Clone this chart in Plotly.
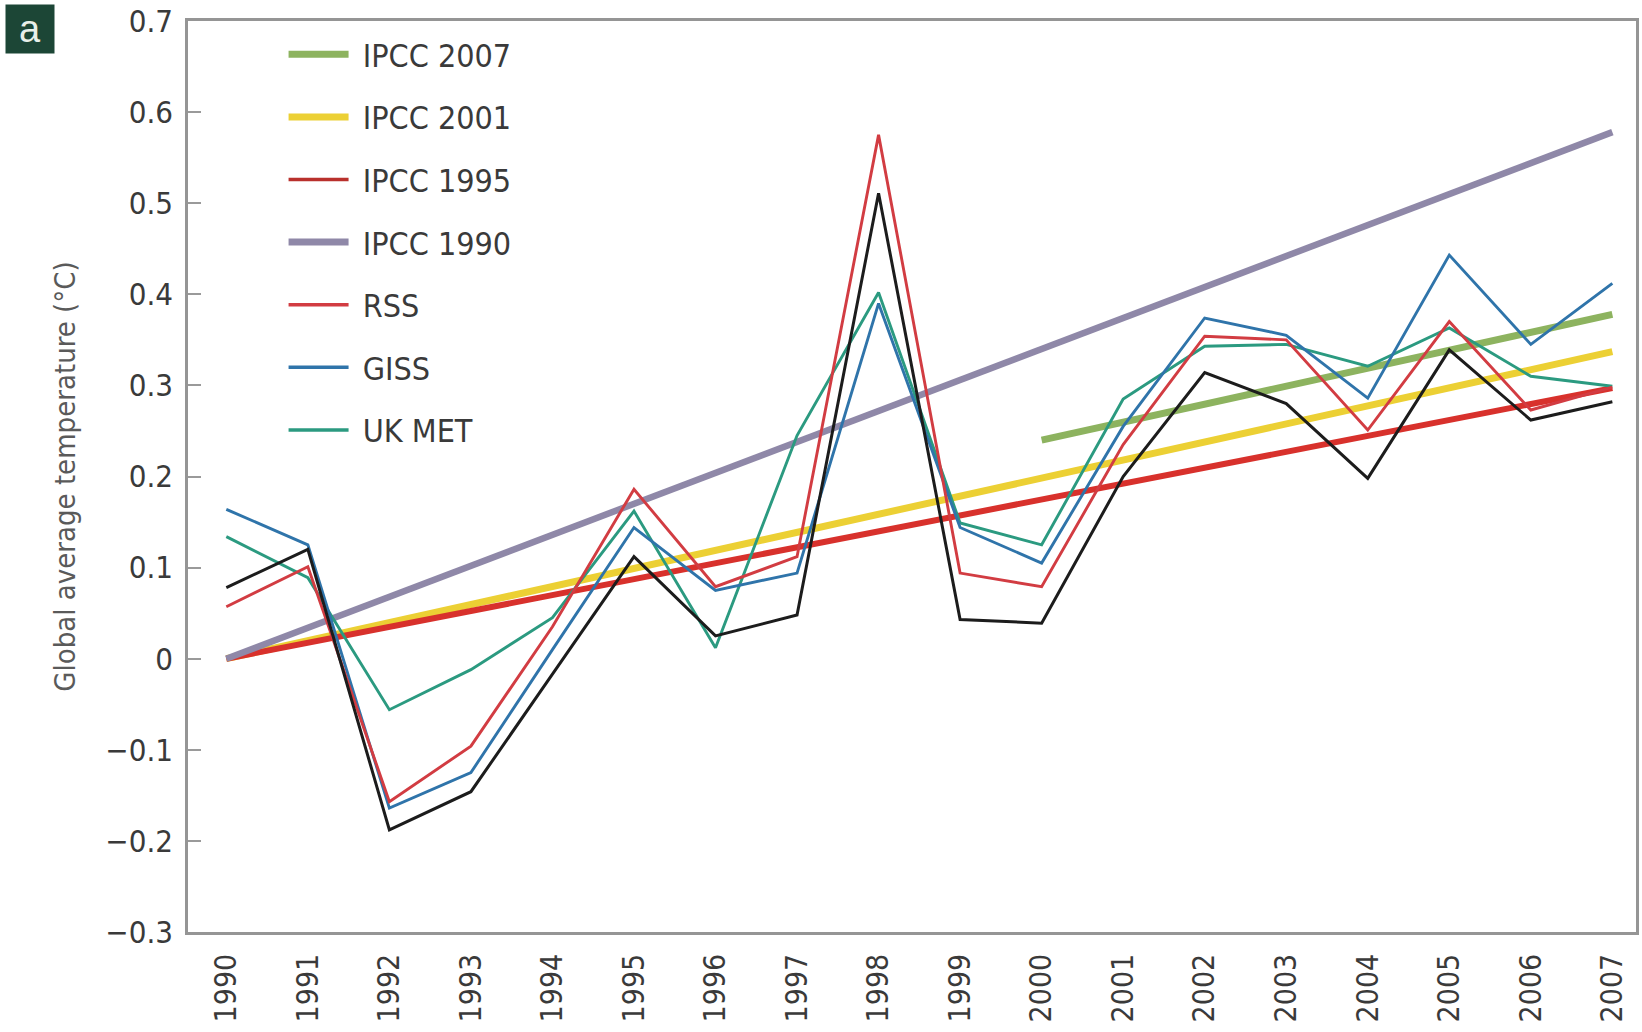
import plotly.graph_objects as go

# Years on the horizontal axis
years = list(range(1990, 2008))
year_labels = [str(y) for y in years]

# Observed global average temperature anomalies (°C)
rss = [0.057, 0.101, -0.157, -0.096, 0.035, 0.186, 0.079, 0.112, 0.575, 0.094,
       0.079, 0.235, 0.354, 0.350, 0.251, 0.370, 0.273, 0.298]
giss = [0.164, 0.125, -0.164, -0.125, 0.010, 0.144, 0.075, 0.094, 0.390, 0.144,
        0.105, 0.255, 0.374, 0.355, 0.286, 0.443, 0.345, 0.412]
uk_met = [0.134, 0.089, -0.056, -0.012, 0.045, 0.162, 0.012, 0.245, 0.402, 0.149,
          0.125, 0.285, 0.343, 0.345, 0.321, 0.363, 0.310, 0.299]
uah = [0.078, 0.120, -0.188, -0.146, -0.017, 0.112, 0.025, 0.048, 0.511, 0.043,
       0.039, 0.200, 0.314, 0.280, 0.198, 0.339, 0.262, 0.282]

# IPCC projected trends (start and end year, start and end value)
ipcc1990_years = [1990, 2007]
ipcc1990_vals = [0.0, 0.578]
ipcc1995_years = [1990, 2007]
ipcc1995_vals = [0.0, 0.297]
ipcc2001_years = [1990, 2007]
ipcc2001_vals = [0.0, 0.337]
ipcc2007_years = [2000, 2007]
ipcc2007_vals = [0.240, 0.378]

# Y-axis ticks
y_ticks = [-0.3, -0.2, -0.1, 0, 0.1, 0.2, 0.3, 0.4, 0.5, 0.6, 0.7]
y_tick_labels = ["\u22120.3", "\u22120.2", "\u22120.1", "0", "0.1", "0.2", "0.3",
                 "0.4", "0.5", "0.6", "0.7"]

C_2007 = "#8db35f"
C_2001 = "#ecd034"
C_1995 = "#d8312c"
C_1990 = "#8f88a8"
C_RSS = "#d23c42"
C_GISS = "#2f74aa"
C_UKMET = "#2b9a80"
C_UAH = "#1c1c1c"

FONT = "Liberation Sans Narrow, DejaVu Sans Condensed, Roboto Condensed, Liberation Sans, sans-serif"

fig = go.Figure()

# Data traces (drawn bottom to top); the legend is built from key-only traces below
def line(x, y, color, width, name):
    fig.add_trace(go.Scatter(x=x, y=y, mode="lines", name=name, showlegend=False,
                             line=dict(color=color, width=width),
                             hoverinfo="x+y+name"))

line(ipcc2001_years, ipcc2001_vals, C_2001, 7, "IPCC 2001")
line(ipcc1995_years, ipcc1995_vals, C_1995, 6, "IPCC 1995")
line(ipcc1990_years, ipcc1990_vals, C_1990, 6.5, "IPCC 1990")
line(ipcc2007_years, ipcc2007_vals, C_2007, 7, "IPCC 2007")
line(years, uk_met, C_UKMET, 2.9, "UK MET")
line(years, giss, C_GISS, 2.9, "GISS")
line(years, rss, C_RSS, 2.9, "RSS")
line(years, uah, C_UAH, 3.0, "UAH")

# Legend key entries
legend_items = [
    ("IPCC 2007", C_2007, 7),
    ("IPCC 2001", C_2001, 7),
    ("IPCC 1995", "#b9302c", 3.5),
    ("IPCC 1990", C_1990, 7),
    ("RSS", C_RSS, 3.5),
    ("GISS", C_GISS, 3.5),
    ("UK MET", C_UKMET, 3.5),
]
for name, color, width in legend_items:
    fig.add_trace(go.Scatter(x=[None], y=[None], mode="lines",
                             name="\u00a0" + name,
                             legendgroup=name, showlegend=True,
                             line=dict(color=color, width=width)))

fig.update_layout(
    width=1642, height=1032,
    margin=dict(l=188, r=6, t=21, b=100, autoexpand=False),
    paper_bgcolor="white", plot_bgcolor="white",
    font=dict(family=FONT, color="#3a3a3a"),
    showlegend=True,
    legend=dict(
        x=0.066, y=0.9934, xanchor="left", yanchor="top",
        bgcolor="rgba(0,0,0,0)", borderwidth=0,
        font=dict(family=FONT, size=32, color="#3a3a3a"),
        traceorder="grouped", tracegroupgap=18,
        itemwidth=60,
    ),
    xaxis=dict(
        range=[1989.53, 2007.29], automargin=False,
        tickmode="array", tickvals=years, ticktext=year_labels,
        tickangle=-90, ticks="", showgrid=False, zeroline=False,
        showline=True, linecolor="#959595", linewidth=2.5, mirror=True,
        tickfont=dict(family=FONT, size=30, color="#3a3a3a"),
        ticklabelstandoff=7,
    ),
    yaxis=dict(
        range=[-0.3, 0.7], automargin=False,
        tickmode="array", tickvals=y_ticks, ticktext=y_tick_labels,
        ticks="inside", ticklen=13, tickcolor="#9a9a9a", tickwidth=1.5,
        showgrid=False, zeroline=False,
        showline=True, linecolor="#959595", linewidth=2.5, mirror=True,
        tickfont=dict(family=FONT, size=31, color="#3a3a3a"),
        ticklabelstandoff=6,
        title=dict(text="Global average temperature (\u00b0C)",
                   font=dict(family=FONT, size=29, color="#5a5a5a"),
                   standoff=22),
    ),
    annotations=[
        dict(text="a", xref="paper", yref="paper",
             x=(30 - 188) / 1448, y=(932 - 29) / 911,
             xanchor="center", yanchor="middle", showarrow=False,
             width=46, height=46, bgcolor="#1c4636",
             font=dict(family="Liberation Sans, Arial, sans-serif", size=38, color="#e8efe9")),
    ],
)

fig.write_html("out.html")
